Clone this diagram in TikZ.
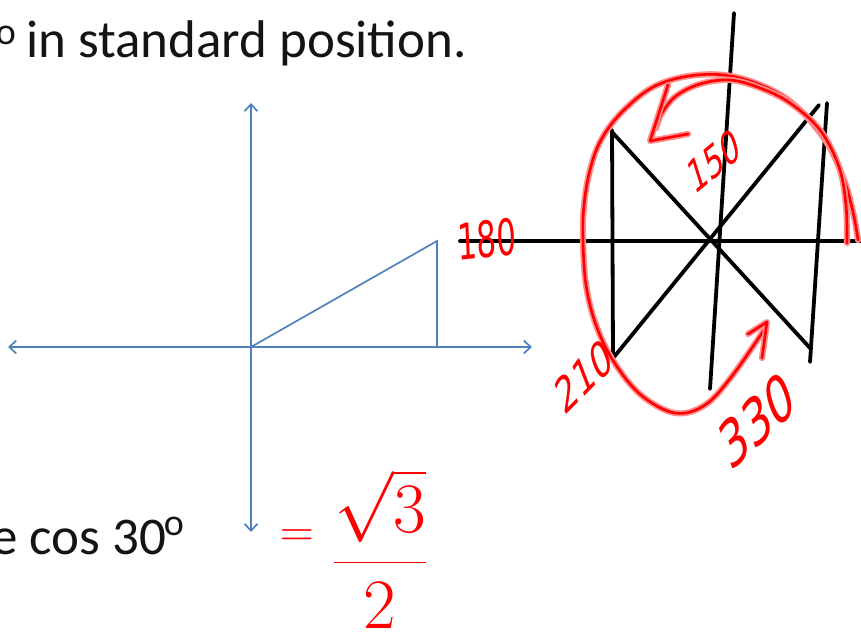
\documentclass[tikz,border=0pt]{standalone}
\usepackage{fontspec}
\setmainfont{Carlito}
\newfontfamily\hand{DejaVu Sans}
\usetikzlibrary{arrows.meta}
\definecolor{axblue}{RGB}{79,129,189}
\definecolor{halo}{RGB}{255,140,140}
\tikzset{
  ink/.style={draw=black, line width=3.8pt, line cap=round},
  pen/.style={draw=red, line width=2.6pt, line cap=round, line join=round,
    preaction={draw=halo, line width=6.2pt, line cap=round, line join=round}},
  ax/.style={draw=axblue, line width=1.7pt},
  axarrow/.style={ax, {Straight Barb[length=7pt,width=13pt,line width=1.7pt]}-{Straight Barb[length=7pt,width=13pt,line width=1.7pt]}},
  lbl/.style={text=red, inner sep=0pt, font=\hand\fontsize{50}{56}\selectfont, xscale=0.62},
  body/.style={inner sep=0pt, text=black!92, font=\fontsize{53}{60}\selectfont},
}
\begin{document}
\begin{tikzpicture}[x=1pt,y=-1pt]
\useasboundingbox (0,0) rectangle (861,641);
% printed text
\node[body, anchor=base west] (title) at (26,57) {in standard position.};
\node[inner sep=0pt, text=black!92, font=\fontsize{38}{40}\selectfont] (deg1) at (6,35) {o};
\node[body, anchor=base west] (cosq) at (-9,554) {e cos 30};
\node[inner sep=0pt, text=black!92, font=\fontsize{38}{40}\selectfont] (deg2) at (174,526) {o};
% blue axes and triangle
\coordinate (O) at (251,347);
\coordinate (top) at (251,103);
\coordinate (bot) at (251,532);
\coordinate (left) at (8,347);
\coordinate (right) at (532,347);
\coordinate (P) at (437,241);
\coordinate (Q) at (437,347);
\draw[axarrow] (bot) -- (top);
\draw[axarrow] (left) -- (right);
\draw[ax] (O) -- (P) -- (Q);
% black ink sketch
\coordinate (hl) at (460,241);
\coordinate (hr) at (866,241);
\coordinate (vt) at (734,13);
\coordinate (vb) at (710,389);
\coordinate (lt) at (612,130);
\coordinate (lb) at (613,357);
\coordinate (rt) at (827,103);
\coordinate (rb) at (810,362);
\coordinate (d1a) at (612,132);
\coordinate (d1b) at (810,348);
\coordinate (d2a) at (819,105);
\coordinate (d2b) at (614,357);
\draw[ink] (hl) -- (hr);
\draw[ink] (vt) -- (vb);
\draw[ink] (lt) -- (lb);
\draw[ink] (rt) -- (rb);
\draw[ink] (d1a) -- (d1b);
\draw[ink] (d2a) -- (d2b);
% red ink: big loop to 330
\draw[pen] plot[smooth, tension=0.6] coordinates {(858,240) (853,212) (843,177) (823,137) (787,99) (740,78) (697,75) (655,86) (622,112) (601,140) (590,170) (584,205) (583,240) (586,285) (596,325) (614,362) (641,395) (675,413) (705,405) (732,376) (764,330)};
\draw[pen] (748,334) -- (767,322) -- (762,358);
% red ink: arc to 150
\draw[pen] plot[smooth, tension=0.6] coordinates {(847,243) (846,205) (839,167) (820,130) (790,103) (760,88) (730,80) (700,84) (676,96) (662,113) (656,128)};
\draw[pen] (668,85) -- (650,141) -- (688,134);
% red labels
\node[lbl, rotate=4] (l180) at (487,239) {180};
\node[lbl, rotate=27, font=\hand\fontsize{46}{50}\selectfont] (l150) at (714,161) {150};
\node[lbl, rotate=32, font=\hand\fontsize{50}{56}\selectfont] (l210) at (584,376) {210};
\node[lbl, rotate=30, font=\hand\fontsize{66}{72}\selectfont] (l330) at (757,420) {330};
\node[text=red, inner sep=0pt, font=\Huge, scale=1.9] (eq) at (297,538) {$=$};
\node[text=red, inner sep=0pt, font=\Huge, scale=2.85, anchor=base] (frac) at (380,580) {$\displaystyle\frac{\sqrt{3}}{2}$};
\end{tikzpicture}
\end{document}
